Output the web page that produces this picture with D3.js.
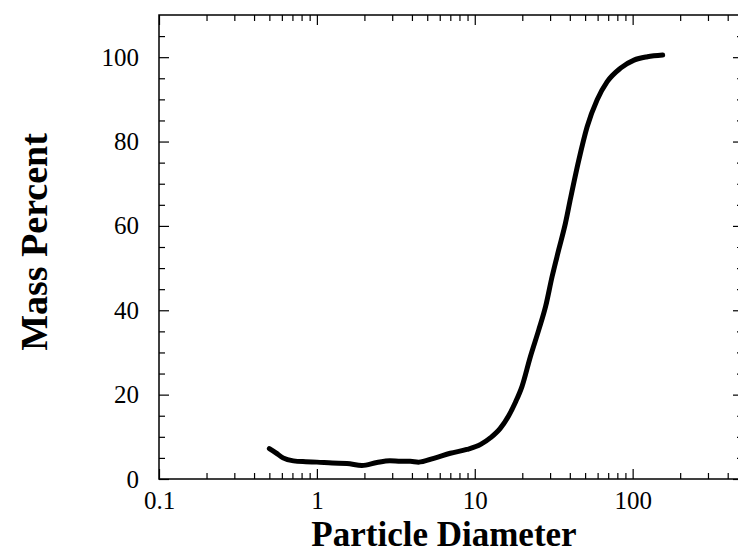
<html>
<script src='https://d3js.org/d3.v7.min.js'></script>
<style>
  body { margin: 0; background: #fff; }
  .chart text { font-family: "Liberation Serif", "Times New Roman", serif; fill: #000; }
  .axis path { display: none; }
  .axis line { stroke: #000; stroke-width: 1.2; }
  .axis text { font-size: 25px; }
  .title { font-weight: bold; }
</style>
<body>
<svg class="chart" width=738 height=554></svg>
<script>
// particle size distribution
var diameter = [0.5, 0.55, 0.61, 0.71, 0.85, 1.0, 1.25, 1.55, 1.93, 2.4, 2.9, 3.4, 3.9, 4.4, 5.5, 7.0, 8.9, 10.9, 12.6, 14.5, 16.4, 18.1, 19.9, 22.5, 25.4, 28.1, 30.9, 34, 37.5, 40.4, 45.6, 51.5, 59.6, 69, 83.8, 102, 124, 155];
var massPercent = [7.2, 6.2, 5.0, 4.3, 4.1, 4.0, 3.8, 3.7, 3.2, 3.9, 4.3, 4.2, 4.2, 4.0, 4.9, 6.1, 7.0, 8.2, 9.8, 12.0, 15.0, 18.2, 21.9, 29.0, 35.3, 40.9, 48.0, 54.3, 60.6, 66.5, 75.6, 83.5, 89.9, 94.2, 97.4, 99.3, 100.1, 100.5];

var xMajor = [0.1, 1, 10, 100];
var xMinor = [0.2, 0.3, 0.4, 0.5, 0.6, 0.7, 0.8, 0.9, 2, 3, 4, 5, 6, 7, 8, 9, 20, 30, 40, 50, 60, 70, 80, 90, 200, 300, 400];
var yMajor = [0, 20, 40, 60, 80, 100];
var yMinor = [5, 10, 15, 25, 30, 35, 45, 50, 55, 65, 70, 75, 85, 90, 95, 105];

var mLeft = 159, mRight = 743, mTop = 15, mBottom = 479;
var width = mRight - mLeft, height = mBottom - mTop;

var xScale = d3.scaleLog().domain([0.1, 500]).range([0, width]);
var yScale = d3.scaleLinear().domain([0, 110]).range([height, 0]);

var svg = d3.select("svg");
var plot = svg.append("g").attr("transform", "translate(" + mLeft + "," + mTop + ")");

// bottom axis, labelled, ticks point inward
plot.append("g").attr("class", "axis")
  .attr("transform", "translate(0," + height + ")")
  .call(d3.axisBottom(xScale).tickValues(xMajor).tickSize(-10).tickPadding(12)
    .tickFormat(function(d) { return d3.format("~g")(d); }));
plot.append("g").attr("class", "axis")
  .attr("transform", "translate(0," + height + ")")
  .call(d3.axisBottom(xScale).tickValues(xMinor).tickSize(-6).tickFormat(""));
// top mirror
plot.append("g").attr("class", "axis")
  .call(d3.axisTop(xScale).tickValues(xMajor).tickSize(-10).tickFormat(""));
plot.append("g").attr("class", "axis")
  .call(d3.axisTop(xScale).tickValues(xMinor).tickSize(-6).tickFormat(""));

// left axis
plot.append("g").attr("class", "axis")
  .call(d3.axisLeft(yScale).tickValues(yMajor).tickSize(-10).tickPadding(20));
plot.append("g").attr("class", "axis")
  .call(d3.axisLeft(yScale).tickValues(yMinor).tickSize(-6).tickFormat(""));
// right mirror
plot.append("g").attr("class", "axis")
  .attr("transform", "translate(" + width + ",0)")
  .call(d3.axisRight(yScale).tickValues(yMajor).tickSize(-10).tickFormat(""));
plot.append("g").attr("class", "axis")
  .attr("transform", "translate(" + width + ",0)")
  .call(d3.axisRight(yScale).tickValues(yMinor).tickSize(-6).tickFormat(""));

// frame
plot.append("rect")
  .attr("width", width).attr("height", height)
  .attr("fill", "none").attr("stroke", "#000").attr("stroke-width", 1.5);

var line = d3.line()
  .x(function(d, i) { return xScale(diameter[i]); })
  .y(function(d) { return yScale(d); })
  .curve(d3.curveMonotoneX);

plot.append("path")
  .datum(massPercent)
  .attr("d", line)
  .attr("fill", "none")
  .attr("stroke", "#000")
  .attr("stroke-width", 5)
  .attr("stroke-linejoin", "round")
  .attr("stroke-linecap", "round");

svg.append("text")
  .attr("class", "title")
  .attr("x", 444).attr("y", 546)
  .style("font-size", "35px")
  .style("text-anchor", "middle")
  .text("Particle Diameter");

svg.append("text")
  .attr("class", "title")
  .attr("transform", "translate(47,242) rotate(-90)")
  .style("font-size", "38px")
  .style("text-anchor", "middle")
  .text("Mass Percent");
</script>
</body>
</html>
